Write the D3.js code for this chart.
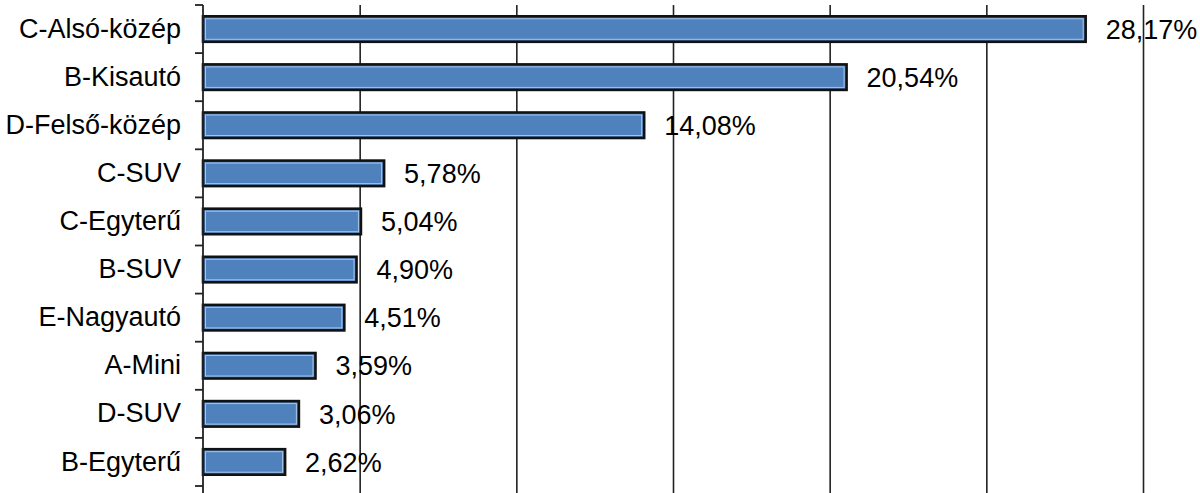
<!DOCTYPE html>
<html>
<head>
<meta charset="utf-8">
<script src="https://cdn.jsdelivr.net/npm/d3@7"></script>
<style>
  body { margin: 0; background: #fff; }
  svg { display: block; }
</style>
</head>
<body>
<svg id="chart"></svg>
<script>
var categories = ["C-Alsó-közép", "B-Kisautó", "D-Felső-közép", "C-SUV", "C-Egyterű",
                  "B-SUV", "E-Nagyautó", "A-Mini", "D-SUV", "B-Egyterű"]
var shares = [28.17, 20.54, 14.08, 5.78, 5.04, 4.90, 4.51, 3.59, 3.06, 2.62]
var gridTicks = [5, 10, 15, 20, 25, 30]

var dimensions = {
    width: 1200,
    height: 493,
    margin: { top: 5, bottom: 7, right: 57, left: 203 }
}

var dataset = categories.map((c, i) => ({ name: c, value: shares[i] }))

var svg = d3.select("#chart")
    .attr("width", dimensions.width)
    .attr("height", dimensions.height)
    .style("font-family", "'Liberation Sans', Arial, sans-serif")

var xScale = d3.scaleLinear()
    .domain([0, 30])
    .range([dimensions.margin.left, dimensions.width - dimensions.margin.right])

var yScale = d3.scaleBand()
    .domain(categories)
    .range([dimensions.margin.top, dimensions.height - dimensions.margin.bottom])
    .paddingInner(0.47)
    .paddingOuter(0.235)

// vertical gridlines
var gridGen = d3.axisTop(xScale)
    .tickValues(gridTicks)
    .tickSize(dimensions.height - dimensions.margin.top)
    .tickFormat("")
var grid = svg.append("g")
    .attr("transform", `translate(0,${dimensions.height})`)
    .call(gridGen)
grid.select(".domain").remove()
grid.selectAll("line").attr("stroke", "#222").attr("stroke-width", 1.6)

// bars
var bars = svg.append("g")
    .selectAll("g")
    .data(dataset)
    .enter()
    .append("g")

bars.append("rect")
    .attr("x", xScale(0))
    .attr("y", d => yScale(d.name))
    .attr("width", d => xScale(d.value) - xScale(0))
    .attr("height", yScale.bandwidth())
    .attr("fill", "#4F81BD")
    .attr("stroke", "#111")
    .attr("stroke-width", 2.6)

// light inner edge
bars.append("rect")
    .attr("x", xScale(0) + 2.5)
    .attr("y", d => yScale(d.name) + 2.5)
    .attr("width", d => xScale(d.value) - xScale(0) - 5)
    .attr("height", yScale.bandwidth() - 5)
    .attr("fill", "none")
    .attr("stroke", "#A7C4E8")
    .attr("stroke-width", 1)

// value labels
var fmt = d3.formatLocale({ decimal: ",", thousands: " ", grouping: [3], currency: ["", ""] }).format(".2f")
svg.append("g")
    .selectAll("text")
    .data(dataset)
    .enter()
    .append("text")
    .attr("x", d => xScale(d.value) + 20)
    .attr("y", d => yScale(d.name) + yScale.bandwidth() / 2)
    .attr("dy", "0.36em")
    .attr("font-size", 27)
    .attr("fill", "#000")
    .text(d => fmt(d.value) + "%")

// y axis: labels
var yAxisGen = d3.axisLeft(yScale).tickSize(0).tickPadding(22)
var yAxis = svg.append("g")
    .attr("transform", `translate(${dimensions.margin.left},0)`)
    .call(yAxisGen)
yAxis.select(".domain").remove()
yAxis.selectAll("text")
    .attr("font-size", 27)
    .attr("font-family", "'Liberation Sans', Arial, sans-serif")
    .attr("fill", "#000")

// axis line and boundary ticks
svg.append("line")
    .attr("x1", xScale(0)).attr("x2", xScale(0))
    .attr("y1", dimensions.margin.top).attr("y2", dimensions.height)
    .attr("stroke", "#222").attr("stroke-width", 1.8)

var step = yScale.step()
var boundaries = categories.map(c => yScale(c) - step * yScale.paddingInner() / 2)
boundaries.push(boundaries[boundaries.length - 1] + step)
svg.append("g")
    .selectAll("line")
    .data(boundaries)
    .enter()
    .append("line")
    .attr("x1", xScale(0) - 8).attr("x2", xScale(0))
    .attr("y1", d => d).attr("y2", d => d)
    .attr("stroke", "#222").attr("stroke-width", 1.8)
</script>
</body>
</html>
